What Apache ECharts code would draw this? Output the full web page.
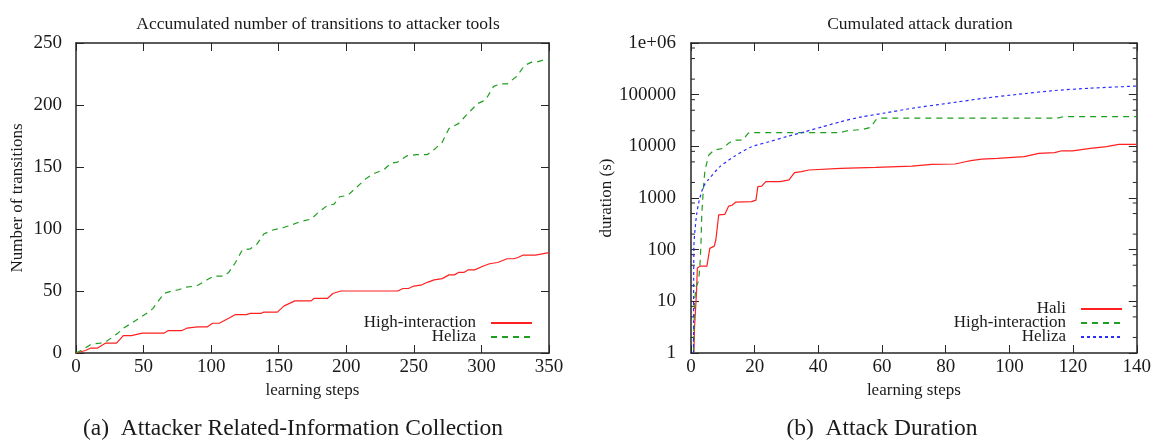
<!DOCTYPE html>
<html>
<head>
<meta charset="utf-8">
<script src="https://cdn.jsdelivr.net/npm/echarts@6/dist/echarts.min.js"></script>
<style>
html,body{margin:0;padding:0;background:#fff;}
#chart{width:1154px;height:441px;}
</style>
</head>
<body>
<div id="chart"></div>
<script>
// ---------- Data: (a) Accumulated number of transitions ----------
const hiStepsA = [0,7,11,16,22,30,35,41,49,65,68,78,82,90,97,101,106,113,118,126,129,137,139,149,154,158,162,174,176,186,190,196,238,242,246,250,256,260,265,271,276,280,283,287,290,295,301,306,312,319,324,327,331,340,350];
const hiCountA = [0,2,4,4,8,8,14,14,16,16,18,18,20,21,21,24,24,28,31,31,32,32,33,33,38,40,42,42,44,44,48,50,50,52,52,54,55,57,59,60,63,63,65,65,67,67,70,72,73,76,76,77,79,79,81];
const helStepsA = [0,7,11,18,22,26,31,35,41,48,55,57,65,71,76,81,89,97,102,109,113,118,123,129,134,139,145,153,159,166,174,179,186,191,195,201,205,212,215,221,228,233,238,245,252,260,266,271,276,283,289,297,303,309,314,319,326,332,338,342,348,350];
const helCountA = [0,4,7,8,9,12,16,20,24,29,34,36,48,50,51,53,54,59,62,62,65,73,83,84,88,96,99,101,103,106,108,113,119,120,126,127,131,138,141,145,148,153,154,159,160,160,165,170,181,185,192,201,204,215,217,217,223,232,235,235,237,237];
const xTicksA = [0,50,100,150,200,250,300,350];
const yTicksA = [0,50,100,150,200,250];

// ---------- Data: (b) Cumulated attack duration ----------
const haliStepsB = [0.9,1.1,1.7,2,2.8,5,5.9,7.3,7.8,8.7,10.6,11.8,12.9,14,19,20.4,21,22.2,23.5,28,30.8,32.5,34.7,37,47,58,69.4,75.6,82.9,86.2,87.9,91.3,96.3,104.7,109.2,114.2,116.5,119.8,125.4,130.5,134.4,140];
const haliDurB = [1,3,14,44,48,48,106,117,154,470,480,695,725,830,850,910,1660,1700,2080,2080,2240,3100,3230,3480,3740,3900,4150,4470,4550,5030,5270,5670,5850,6300,7300,7550,8200,8200,9150,9850,10950,10950];
const hiStepsB = [0.8,1.1,1.6,2.4,2.8,3.1,3.4,3.7,4.1,4.4,5.6,7.3,10,11.8,13.4,16.2,18,20,47,49,54,56.5,58,59.4,115,117,140];
const hiDurB = [1,10,19,25,50,114,500,1000,2240,3500,6800,8500,9100,11500,13200,13200,18000,18500,18500,20000,21300,23300,32300,35000,35000,37500,37500];
const helStepsB = [0.8,0.9,1.25,1.8,2.6,3.9,5.4,9,13.4,19,24.6,30,35.8,41.4,47,53.7,60.5,69.4,80.6,91.8,103,114,125,140];
const helDurB = [1,114,240,500,910,1660,2240,4000,6300,9800,12300,15400,19200,24000,30000,37300,43700,54600,67900,85000,102000,120000,133000,147000];
const xTicksB = [0,20,40,60,80,100,120,140];
const yTickLabelsB = ['1','10','100','1000','10000','100000','1e+06'];
const yMinorB = [2,5,8,20,50,80,200,500,800,2000,5000,8000,20000,50000,80000,200000,500000,800000];

// ---------- Text ----------
const titleA = 'Accumulated number of transitions to attacker tools';
const titleB = 'Cumulated attack duration';
const captionA = '(a)  Attacker Related-Information Collection';
const captionB = '(b)  Attack Duration';

const zip = (xs, ys) => xs.map((x, i) => [x, ys[i]]);
const FONT = 'Liberation Serif';
const INK = '#1a1a1a';
const RED = '#ff2020', GREEN = '#1f9f1f', BLUE = '#2b2bff';

const axisLine = {show: true, onZero: false, lineStyle: {color: '#262626', width: 1.5}};
const tickMajor = {show: true, inside: true, length: 8, lineStyle: {color: '#262626', width: 1}};
const lbl = {fontFamily: FONT, fontSize: 19, color: INK};
const legendText = {fontFamily: FONT, fontSize: 17, color: INK, padding: [0, 10, 0, 0]};

const chart = echarts.init(document.getElementById('chart'), null, {renderer: 'canvas'});
chart.setOption({
  animation: false,
  backgroundColor: '#fff',
  title: [
    {text: titleA, left: 313, top: 10, textAlign: 'center', textStyle: {fontFamily: FONT, fontSize: 17.5, fontWeight: 'normal', color: INK}},
    {text: titleB, left: 915, top: 10, textAlign: 'center', textStyle: {fontFamily: FONT, fontSize: 17.5, fontWeight: 'normal', color: INK}},
    {text: captionA, left: 288, top: 412, textAlign: 'center', textStyle: {fontFamily: FONT, fontSize: 23.5, fontWeight: 'normal', color: INK}},
    {text: captionB, left: 877, top: 412, textAlign: 'center', textStyle: {fontFamily: FONT, fontSize: 23.5, fontWeight: 'normal', color: INK}}
  ],
  grid: [
    {left: 76, top: 43, width: 473, height: 310},
    {left: 691, top: 43, width: 448, height: 310}
  ],
  legend: [
    {
      data: ['High-interaction', 'Heliza'],
      orient: 'vertical', align: 'right', right: 621, top: 314.5, padding: 0,
      itemWidth: 41, itemHeight: 14, itemGap: -3,
      itemStyle: {opacity: 0},
      textStyle: legendText,
      selectedMode: false
    },
    {
      data: ['Hali', 'High-interaction (b)', 'Heliza (b)'],
      formatter: n => n.replace(' (b)', ''),
      orient: 'vertical', align: 'right', right: 31, top: 300.5, padding: 0,
      itemWidth: 41, itemHeight: 14, itemGap: -3,
      itemStyle: {opacity: 0},
      textStyle: legendText,
      selectedMode: false
    }
  ],
  xAxis: [
    {gridIndex: 0, type: 'value', position: 'bottom', min: xTicksA[0], max: xTicksA[xTicksA.length - 1], interval: xTicksA[1] - xTicksA[0],
     axisLine, axisTick: tickMajor, splitLine: {show: false}, axisLabel: Object.assign({margin: 5}, lbl),
     name: 'learning steps', nameLocation: 'middle', nameGap: 26, nameTextStyle: {fontFamily: FONT, fontSize: 17, color: INK}},
    {gridIndex: 0, type: 'value', position: 'top', min: xTicksA[0], max: xTicksA[xTicksA.length - 1], interval: xTicksA[1] - xTicksA[0],
     axisLine, axisTick: tickMajor, splitLine: {show: false}, axisLabel: {show: false}},
    {gridIndex: 1, type: 'value', position: 'bottom', min: xTicksB[0], max: xTicksB[xTicksB.length - 1], interval: xTicksB[1] - xTicksB[0],
     axisLine, axisTick: tickMajor, splitLine: {show: false}, axisLabel: Object.assign({margin: 5}, lbl),
     name: 'learning steps', nameLocation: 'middle', nameGap: 26, nameTextStyle: {fontFamily: FONT, fontSize: 17, color: INK}},
    {gridIndex: 1, type: 'value', position: 'top', min: xTicksB[0], max: xTicksB[xTicksB.length - 1], interval: xTicksB[1] - xTicksB[0],
     axisLine, axisTick: tickMajor, splitLine: {show: false}, axisLabel: {show: false}}
  ],
  yAxis: [
    {gridIndex: 0, type: 'value', position: 'left', min: yTicksA[0], max: yTicksA[yTicksA.length - 1], interval: yTicksA[1] - yTicksA[0],
     axisLine, axisTick: tickMajor, splitLine: {show: false}, axisLabel: Object.assign({margin: 14}, lbl),
     name: 'Number of transitions', nameLocation: 'middle', nameGap: 50, nameTextStyle: {fontFamily: FONT, fontSize: 17, color: INK}},
    {gridIndex: 0, type: 'value', position: 'right', min: yTicksA[0], max: yTicksA[yTicksA.length - 1], interval: yTicksA[1] - yTicksA[0],
     axisLine, axisTick: tickMajor, splitLine: {show: false}, axisLabel: {show: false}},
    {gridIndex: 1, type: 'log', logBase: 10, position: 'left', min: 1, max: 1e6, splitNumber: 6,
     axisLine, axisTick: tickMajor, splitLine: {show: false},
     axisLabel: Object.assign({margin: 15, formatter: v => yTickLabelsB[Math.round(Math.log10(v))]}, lbl),
     name: 'duration (s)', nameLocation: 'middle', nameGap: 74, nameTextStyle: {fontFamily: FONT, fontSize: 17, color: INK}},
    {gridIndex: 1, type: 'log', logBase: 10, position: 'right', min: 1, max: 1e6, splitNumber: 6,
     axisLine, axisTick: tickMajor, splitLine: {show: false}, axisLabel: {show: false}}
  ],
  series: [
    {name: 'High-interaction', type: 'line', xAxisIndex: 0, yAxisIndex: 0, data: zip(hiStepsA, hiCountA),
     showSymbol: false, symbol: 'none', lineStyle: {color: RED, width: 1.2, type: 'solid'}, itemStyle: {color: RED}},
    {name: 'Heliza', type: 'line', xAxisIndex: 0, yAxisIndex: 0, data: zip(helStepsA, helCountA),
     showSymbol: false, symbol: 'none', lineStyle: {color: GREEN, width: 1.2, type: [6, 5]}, itemStyle: {color: GREEN}},
    {name: 'Hali', type: 'line', xAxisIndex: 2, yAxisIndex: 2, data: zip(haliStepsB, haliDurB),
     showSymbol: false, symbol: 'none', lineStyle: {color: RED, width: 1.2, type: 'solid'}, itemStyle: {color: RED}},
    {name: 'High-interaction (b)', type: 'line', xAxisIndex: 2, yAxisIndex: 2, data: zip(hiStepsB, hiDurB),
     showSymbol: false, symbol: 'none', lineStyle: {color: GREEN, width: 1.2, type: [6, 5]}, itemStyle: {color: GREEN}},
    {name: 'Heliza (b)', type: 'line', xAxisIndex: 2, yAxisIndex: 2, data: zip(helStepsB, helDurB), smooth: 0.2,
     showSymbol: false, symbol: 'none', lineStyle: {color: BLUE, width: 1.2, type: [3, 3]}, itemStyle: {color: BLUE}},
    {name: 'minorTicks', type: 'custom', xAxisIndex: 2, yAxisIndex: 2, silent: true, clip: false,
     data: yMinorB.map(v => [xTicksB[0], v]), encode: {x: 0, y: 1},
     renderItem: (params, api) => {
       const v = api.value(1);
       const pL = api.coord([xTicksB[0], v]);
       const pR = api.coord([xTicksB[xTicksB.length - 1], v]);
       const st = {stroke: '#262626', lineWidth: 1};
       return {type: 'group', children: [
         {type: 'line', shape: {x1: pL[0], y1: pL[1], x2: pL[0] + 4, y2: pL[1]}, style: st},
         {type: 'line', shape: {x1: pR[0] - 4, y1: pR[1], x2: pR[0], y2: pR[1]}, style: st}
       ]};
     }}
  ]
});
</script>
</body>
</html>
